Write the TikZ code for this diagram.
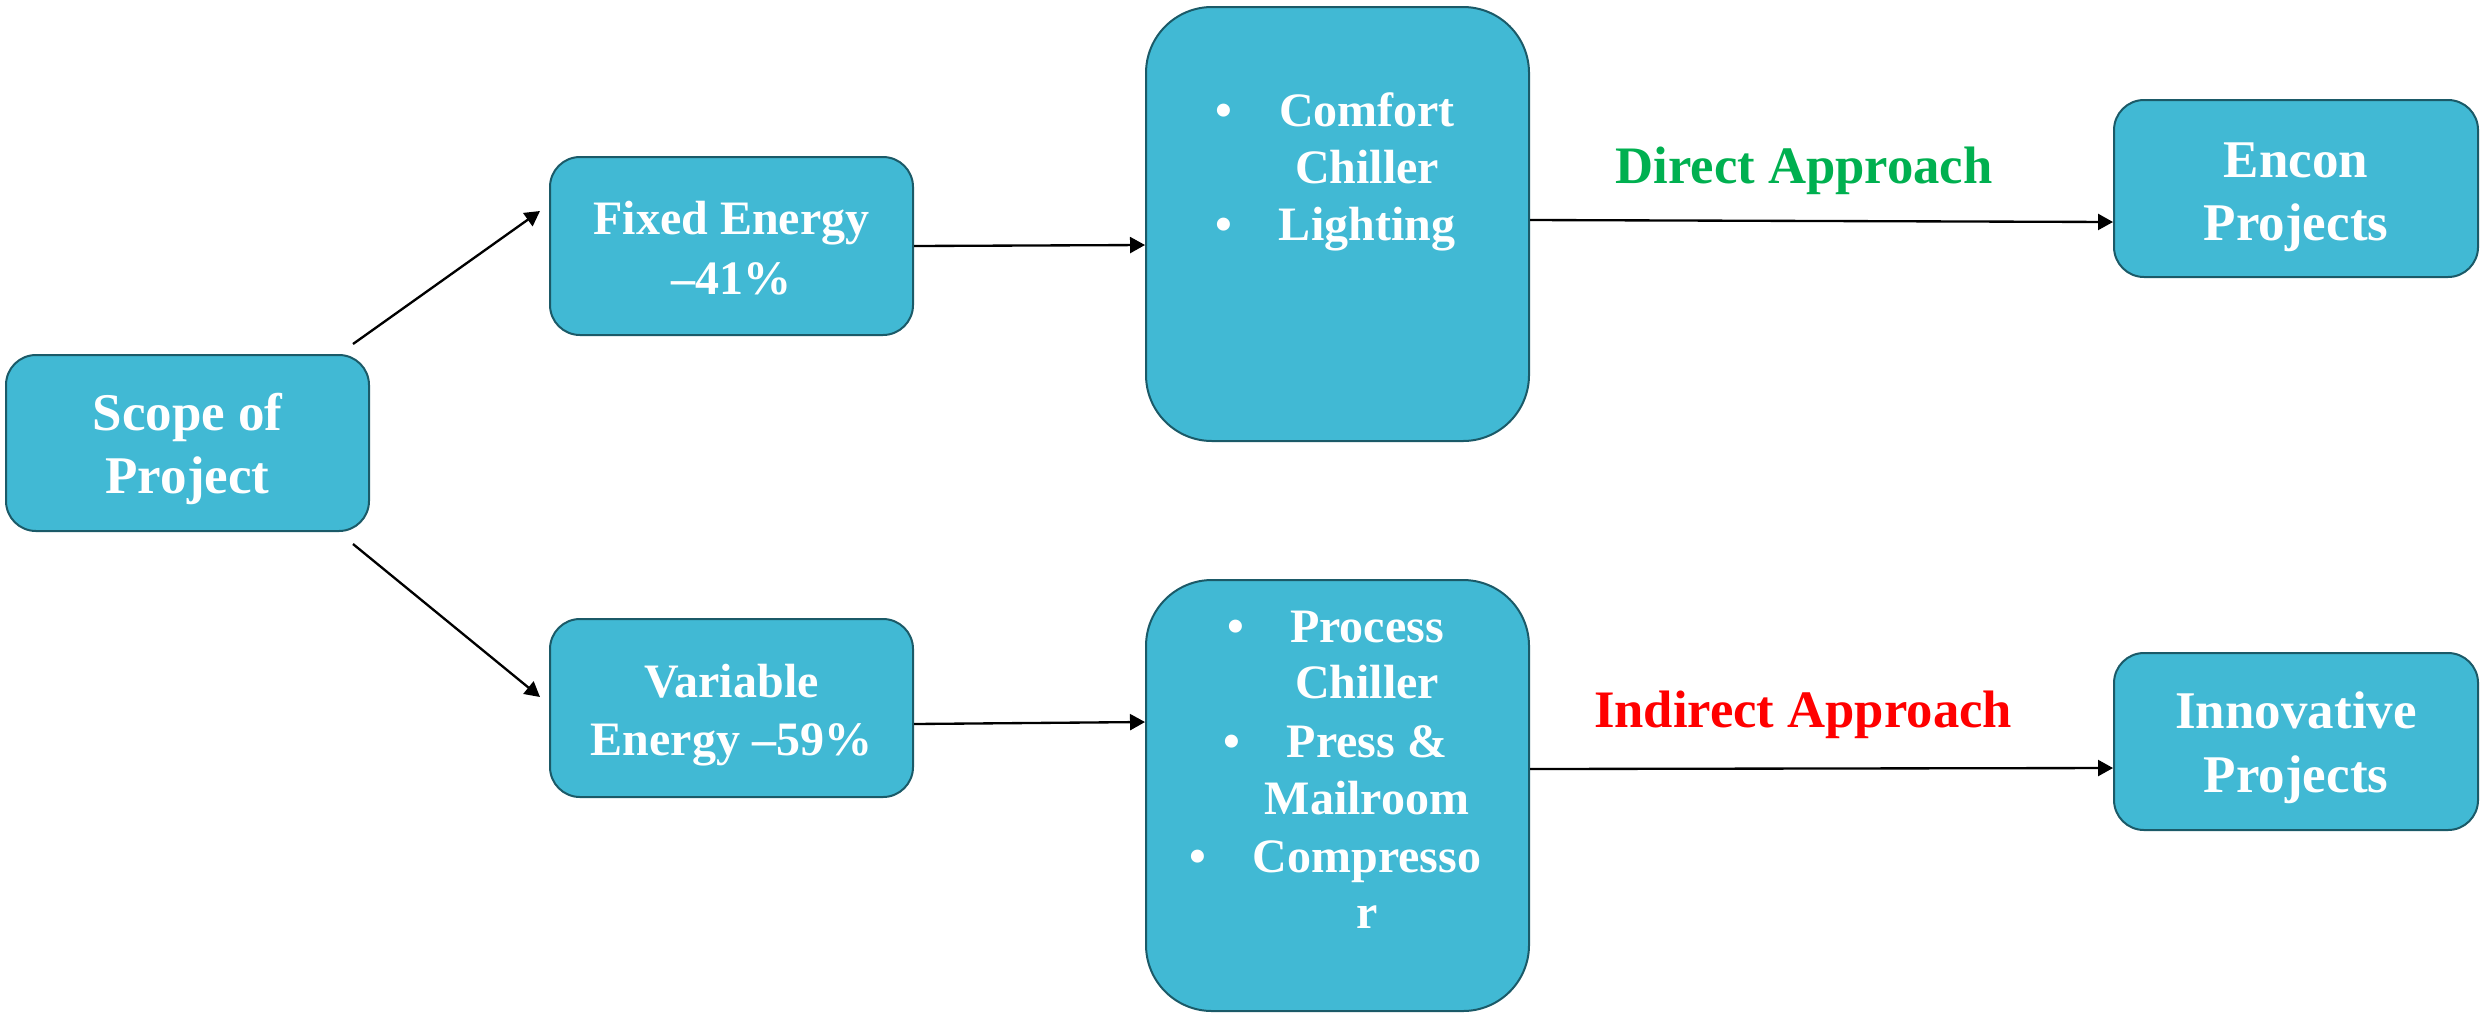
\documentclass[tikz,border=0pt]{standalone}
\usepackage{fontspec}
\setmainfont{Liberation Serif}
\usetikzlibrary{arrows.meta}

% one drawing unit = 0.3pt
\def\u{0.3pt}

\definecolor{boxfill}{HTML}{41B9D4}
\definecolor{boxline}{HTML}{1B5A68}
\definecolor{directgreen}{HTML}{00B050}
\definecolor{indirectred}{HTML}{FF0000}

\tikzset{
  box/.style={draw=boxline, line width=0.6pt, fill=boxfill,
    rounded corners=30*\u, inner sep=0pt},
  bigbox/.style={box, rounded corners=66*\u},
  textline/.style={text=white, anchor=base, inner sep=0pt},
  largetext/.style={textline, font=\fontsize{15.9pt}{18pt}\selectfont\bfseries},
  midtext/.style={textline, font=\fontsize{14.4pt}{17pt}\selectfont\bfseries},
  connector/.style={line width=0.7pt, -{Triangle[length=4.5pt,width=4.8pt]}},
  approach/.style={anchor=base, inner sep=0pt,
    font=\fontsize{15.8pt}{19pt}\selectfont\bfseries}
}

\begin{document}
\begin{tikzpicture}[x=0.3pt, y=-0.3pt]
\useasboundingbox (0,0) rectangle (2483,1012);

% main boxes
\node[box, minimum width=363*\u, minimum height=176*\u] (scope) at (187.5,443) {};
\node[box, minimum width=363*\u, minimum height=178*\u] (fixed) at (731.5,246) {};
\node[box, minimum width=363*\u, minimum height=178*\u] (variable) at (731.5,708) {};
\node[bigbox, minimum width=383*\u, minimum height=434*\u] (comfort) at (1337.5,224) {};
\node[bigbox, minimum width=383*\u, minimum height=431*\u] (process) at (1337.5,795.5) {};
\node[box, minimum width=364*\u, minimum height=177*\u] (encon) at (2296,188.5) {};
\node[box, minimum width=364*\u, minimum height=177*\u] (innov) at (2296,741.5) {};

% box captions, one node per line
\node[largetext] (scope1) at (187.5,430) {Scope of};
\node[largetext] (scope2) at (187.5,493) {Project};
\node[midtext] (fixed1) at (731.5,234) {Fixed Energy};
\node[midtext] (fixed2) at (731.5,294) {–41\%};
\node[midtext] (var1) at (731.5,697) {Variable};
\node[midtext] (var2) at (731.5,755) {Energy –59\%};
\node[largetext] (encon1) at (2296,177) {Encon};
\node[largetext] (encon2) at (2296,240) {Projects};
\node[largetext] (innov1) at (2296,728) {Innovative};
\node[largetext] (innov2) at (2296,792) {Projects};

% bulleted list in the upper load box
\node[midtext] (c1) at (1367,126) {Comfort};
\node[midtext] (c2) at (1367,183) {Chiller};
\node[midtext] (c3) at (1367,240) {Lighting};
\node[midtext] (b1) at ([xshift=-54*\u]c1.base west) {\textbullet};
\node[midtext] (b2) at ([xshift=-54*\u]c3.base west) {\textbullet};

% bulleted list in the lower load box
\node[midtext] (p1) at (1367,642) {Process};
\node[midtext] (p2) at (1367,698) {Chiller};
\node[midtext] (p3) at (1367,757) {Press \&};
\node[midtext] (p4) at (1367,814) {Mailroom};
\node[midtext] (p5) at (1367,872) {Compresso};
\node[midtext] (p6) at (1367,928) {r};
\node[midtext] (q1) at ([xshift=-54*\u]p1.base west) {\textbullet};
\node[midtext] (q2) at ([xshift=-54*\u]p3.base west) {\textbullet};
\node[midtext] (q3) at ([xshift=-54*\u]p5.base west) {\textbullet};

% approach labels
\node[approach, text=directgreen] (direct) at (1804,183) {Direct Approach};
\node[approach, text=indirectred] (indirect) at (1803,727) {Indirect Approach};

% connectors
\draw[connector] ([shift={(-17,-10)}]scope.north east) -- ([shift={(-9,-35)}]fixed.west);
\draw[connector] ([shift={(-17,12)}]scope.south east) -- ([shift={(-9,-11)}]variable.west);
\draw[connector] (fixed.east) -- ([shift={(0,21)}]comfort.west);
\draw[connector] ([shift={(0,16)}]variable.east) -- ([shift={(0,-73.5)}]process.west);
\draw[connector] ([shift={(0,-4)}]comfort.east) -- ([shift={(0,33.5)}]encon.west);
\draw[connector] ([shift={(0,-26.5)}]process.east) -- ([shift={(0,26.5)}]innov.west);
\end{tikzpicture}
\end{document}
